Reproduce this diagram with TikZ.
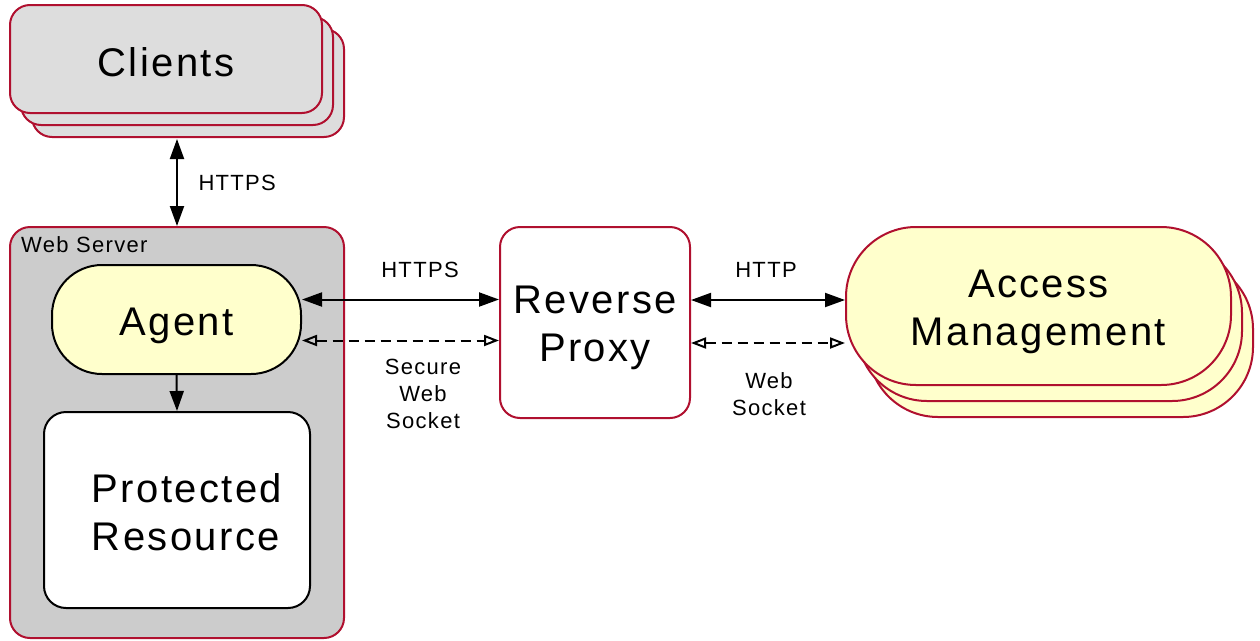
\documentclass[tikz,border=0pt]{standalone}
\usepackage{fontspec}
\setmainfont[LetterSpace=6]{Liberation Sans}
\usepackage{tikz}
\usetikzlibrary{positioning,calc,shadows,arrows.meta}
\definecolor{amred}{HTML}{B0102F}
\definecolor{clgray}{HTML}{DDDDDD}
\definecolor{srvgray}{HTML}{CCCCCC}
\definecolor{amyellow}{HTML}{FFFFCC}

\begin{document}
\begin{tikzpicture}[x=1pt, y=-1pt,
    bigtext/.style={font=\fontsize{40}{48}\selectfont, align=center},
    smalltext/.style={font=\fontsize{22}{27}\selectfont, align=center},
    redbox/.style={draw=amred, line width=2pt, rounded corners=20pt},
    blackbox/.style={draw=black, line width=2pt},
    link/.style={line width=2pt, {Triangle[length=20pt,width=14pt]}-{Triangle[length=20pt,width=14pt]}},
    flow/.style={line width=2pt, -{Triangle[length=20pt,width=14pt]}},
    socket/.style={line width=2pt, dash pattern=on 10pt off 6pt, {Triangle[open,length=15pt,width=11pt]}-{Triangle[open,length=15pt,width=11pt]}}
]
    \useasboundingbox (0,0) rectangle (1260,640);

    % Clients (stack of three)
    \node[redbox, bigtext, fill=clgray, minimum width=312pt, minimum height=108pt, text height=35pt,
        copy shadow={shadow xshift=22pt, shadow yshift=-24pt, fill=clgray, draw=amred, line width=2pt},
        copy shadow={shadow xshift=11pt, shadow yshift=-12pt, fill=clgray, draw=amred, line width=2pt}]
        (clients) at (166,59) {Clients};

    % Web server with agent and resource
    \node[redbox, fill=srvgray, minimum width=334pt, minimum height=411pt] (server) at (177,432.5) {};
    \node[smalltext, anchor=north west, inner sep=0pt] (srvlabel) at (21,236) {Web Server};
    \node[blackbox, rounded corners=50pt, fill=amyellow, bigtext, minimum width=249pt, minimum height=109pt, text height=41pt] (agent) at (176.5,319.5) {Agent};
    \node[blackbox, rounded corners=22pt, fill=white, bigtext, align=left, minimum width=266pt, minimum height=196pt, text height=81pt] (resource) at (177,510) {\hspace*{20pt}Protected\\\hspace*{20pt}Resource};

    % Proxy
    \node[redbox, fill=white, bigtext, minimum width=190pt, minimum height=191pt, text height=87pt] (proxy) at (595,322.5) {Reverse\\Proxy};

    % Access Management (stack of three)
    \node[redbox, rounded corners=70pt, fill=amyellow, bigtext, minimum width=385pt, minimum height=158pt, text height=87pt,
        copy shadow={shadow xshift=22pt, shadow yshift=-32pt, fill=amyellow, draw=amred, line width=2pt},
        copy shadow={shadow xshift=11pt, shadow yshift=-16pt, fill=amyellow, draw=amred, line width=2pt}]
        (access) at (1038.5,306) {Access\\Management};

    % Connections
    \coordinate (clbottom) at ([yshift=-25pt]clients.south);
    \draw[link] (clbottom -| server.north) -- (server.north);
    \node[smalltext, anchor=west] (httpsup) at (195,183) {HTTPS};

    \draw[flow] (agent.south) -- (resource.north);

    \draw[link] ([yshift=20pt]agent.east) -- ([yshift=20pt]agent.east -| proxy.west);
    \draw[socket] ([yshift=-21pt]agent.east) -- ([yshift=-21pt]agent.east -| proxy.west);
    \node[smalltext] (httpsmid) at (420,270) {HTTPS};
    \node[smalltext] (wssecure) at (423,394) {Secure\\Web\\Socket};

    \draw[link] ([yshift=22.5pt]proxy.east) -- ([yshift=22.5pt]proxy.east -| access.west);
    \draw[socket] ([yshift=-20.5pt]proxy.east) -- ([yshift=-20.5pt]proxy.east -| access.west);
    \node[smalltext] (httpmid) at (766,270) {HTTP};
    \node[smalltext] (ws) at (769,394) {Web\\Socket};
\end{tikzpicture}
\end{document}
